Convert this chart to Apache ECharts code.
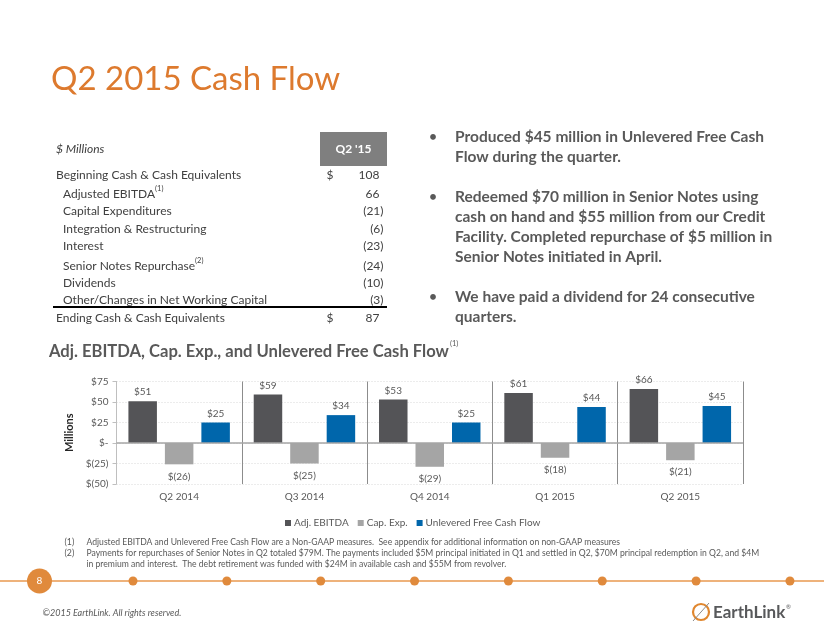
<!DOCTYPE html>
<html>
<head>
<meta charset="utf-8">
<script src="https://cdn.jsdelivr.net/npm/echarts@6/dist/echarts.min.js"></script>
<style>
html,body{margin:0;padding:0;background:#fff;}
#main{width:824px;height:637px;}
</style>
</head>
<body>
<div id="main"></div>
<script>
// ---- data ----
const categories = ['Q2 2014', 'Q3 2014', 'Q4 2014', 'Q1 2015', 'Q2 2015'];
const adjEbitda = [51, 59, 53, 61, 66];
const capEx = [-26, -25, -29, -18, -21];
const unleveredFCF = [25, 34, 25, 44, 45];
const seriesNames = ['Adj. EBITDA', 'Cap. Exp.', 'Unlevered Free Cash Flow'];
const yMin = -50, yMax = 75, yStep = 25;

const tableLabels = ['Beginning Cash & Cash Equivalents', 'Adjusted EBITDA', 'Capital Expenditures',
  'Integration & Restructuring', 'Interest', 'Senior Notes Repurchase', 'Dividends',
  'Other/Changes in Net Working Capital', 'Ending Cash & Cash Equivalents'];
const tableValues = [108, 66, -21, -6, -23, -24, -10, -3, 87];
const tableNotes = ['', '(1)', '', '', '', '(2)', '', '', ''];
const tableDollar = [true, false, false, false, false, false, false, false, true];

const bullets = [
  ['Produced $45 million in Unlevered Free Cash', 'Flow during the quarter.'],
  ['Redeemed $70 million in Senior Notes using', 'cash on hand and $55 million from our Credit',
   'Facility. Completed repurchase of $5 million in', 'Senior Notes initiated in April.'],
  ['We have paid a dividend for 24 consecutive', 'quarters.']
];
const footnotes = [
  ['(1)', ['Adjusted EBITDA and Unlevered Free Cash Flow are a Non-GAAP measures.  See appendix for additional information on non-GAAP measures']],
  ['(2)', ['Payments for repurchases of Senior Notes in Q2 totaled $79M. The payments included $5M principal initiated in Q1 and settled in Q2, $70M principal redemption in Q2, and $4M',
           'in premium and interest.  The debt retirement was funded with $24M in available cash and $55M from revolver.']]
];

// ---- layout / style ----
const FONT = 'Lato, "Open Sans", sans-serif';
const GRAY = '#595959';
const TBL = '#404040';
const ORANGE = '#DD7A2E';
const LINE_ORANGE = '#E8994F';

function money(v) {
  if (v === 0) return '$-';
  return v < 0 ? '$(' + (-v) + ')' : '$' + v;
}

const g = [];
// title
g.push({type:'text', style:{text:'Q2 2015 Cash Flow', x:51, y:79, font:'33px ' + FONT, fill:ORANGE, verticalAlign:'middle'}});

// table
g.push({type:'text', style:{text:'$ Millions', x:56, y:149, font:'italic 12px ' + FONT, fill:TBL, verticalAlign:'middle'}});
g.push({type:'rect', shape:{x:320, y:132, width:67, height:34}, style:{fill:'#7F7F7F'}});
g.push({type:'text', style:{text:"Q2 '15", x:353.5, y:149, font:'bold 12px ' + FONT, fill:'#fff', align:'center', verticalAlign:'middle'}});
const rowY = [175, 194, 211.5, 229, 246.5, 266, 283, 300.5, 318];
tableLabels.forEach((lab, i) => {
  const indent = (i === 0 || i === tableLabels.length - 1) ? 56 : 63;
  const note = tableNotes[i];
  g.push({type:'text', style:{
    text: note ? '{a|' + lab + '}{s|' + note + '}' : '{a|' + lab + '}',
    x: indent, y: rowY[i], verticalAlign:'middle', fill:TBL, font:'12px ' + FONT,
    rich:{a:{font:'12px ' + FONT, fill:TBL, lineHeight:18}, s:{font:'7.5px ' + FONT, fill:TBL, verticalAlign:'top', lineHeight:18, padding:[0,0,8,0]}}
  }});
  const v = tableValues[i];
  if (tableDollar[i]) g.push({type:'text', style:{text:'$', x:330, y:rowY[i], font:'12px ' + FONT, fill:TBL, align:'center', verticalAlign:'middle'}});
  g.push({type:'text', style:{text: v < 0 ? '(' + (-v) + ')' : String(v), x: v < 0 ? 383.5 : 379.5, y: rowY[i], font:'12px ' + FONT, fill:TBL, align:'right', verticalAlign:'middle'}});
});
g.push({type:'line', shape:{x1:53, y1:307, x2:387, y2:307}, style:{stroke:'#000', lineWidth:2}});

// bullets
let by = 137;
bullets.forEach((lines) => {
  g.push({type:'text', style:{text:'•', x:433, y:by, font:'bold 13px ' + FONT, fill:GRAY, align:'center', verticalAlign:'middle'}});
  lines.forEach((ln, li) => {
    g.push({type:'text', style:{text:ln, x:455, y:by + li * 20, font:'bold 15.5px ' + FONT, fill:GRAY, verticalAlign:'middle'}});
  });
  by += lines.length * 20 + 20;
});

// chart title
g.push({type:'text', style:{
  text:'{a|Adj. EBITDA, Cap. Exp., and Unlevered Free Cash Flow}{s|(1)}', x:49, y:352, verticalAlign:'middle',
  rich:{a:{font:'bold 16.6px ' + FONT, fill:GRAY, lineHeight:24}, s:{font:'7.5px ' + FONT, fill:GRAY, verticalAlign:'top', lineHeight:24, padding:[0,0,14,1]}}
}});

// footnotes
let fy = 542;
footnotes.forEach(([num, lines]) => {
  g.push({type:'text', style:{text:num, x:64.5, y:fy, font:'8.8px ' + FONT, fill:GRAY, verticalAlign:'middle'}});
  lines.forEach((ln, li) => {
    g.push({type:'text', style:{text:ln, x:86.5, y:fy + li * 11.3, font:'8.6px ' + FONT, fill:GRAY, verticalAlign:'middle'}});
  });
  fy += lines.length * 11.3;
});

// bottom orange rule with dots
g.push({type:'line', shape:{x1:0, y1:581, x2:824, y2:581}, style:{stroke:LINE_ORANGE, lineWidth:1.5}});
for (let k = 0; k < 8; k++) {
  g.push({type:'circle', shape:{cx:133 + k * 93.85, cy:581, r:4.5}, style:{fill:'#E08A3C'}});
}
g.push({type:'circle', shape:{cx:39.5, cy:581, r:12.5}, style:{fill:'#E08A3C'}});
g.push({type:'text', style:{text:'8', x:39.5, y:581, font:'10px ' + FONT, fill:'#fff', align:'center', verticalAlign:'middle'}});
g.push({type:'text', style:{text:'©2015 EarthLink. All rights reserved.', x:42.5, y:613, font:'italic 9px ' + FONT, fill:GRAY, verticalAlign:'middle'}});

// logo
g.push({type:'circle', shape:{cx:701, cy:612, r:8}, style:{fill:'none', stroke:'#E0872F', lineWidth:2.2}});
g.push({type:'line', shape:{x1:693, y1:621, x2:709, y2:603}, style:{stroke:'#8A8A8A', lineWidth:1}});
g.push({type:'text', style:{text:'EarthLink', x:713, y:613, font:'bold 17px ' + FONT, fill:'#58595B', verticalAlign:'middle'}});
g.push({type:'text', style:{text:'®', x:786, y:607, font:'6px ' + FONT, fill:'#58595B', verticalAlign:'middle'}});

const labelCommon = {show:true, fontFamily:FONT, fontSize:10, color:GRAY, formatter: p => money(p.value)};

const chart = echarts.init(document.getElementById('main'), null, {renderer:'canvas'});
chart.setOption({
  animation:false,
  textStyle:{fontFamily:FONT},
  grid:{left:116.5, right:81, top:381.5, bottom:153},
  legend:{
    left:280, top:513, itemWidth:6, itemHeight:6, itemGap:9, icon:'rect',
    textStyle:{fontFamily:FONT, fontSize:10, color:GRAY, padding:[0,0,0,-2]},
    data:seriesNames
  },
  xAxis:{
    type:'category', data:categories,
    axisLine:{show:false, onZero:false},
    axisTick:{show:false},
    axisLabel:{fontFamily:FONT, fontSize:10, color:GRAY, margin:8},
    splitLine:{show:true, lineStyle:{color:'#8C8C8C', width:1}}
  },
  yAxis:{
    type:'value', min:yMin, max:yMax, interval:yStep,
    name:'Millions', nameLocation:'middle', nameGap:35, nameRotate:90,
    nameTextStyle:{fontFamily:FONT, fontSize:11, fontWeight:'bold', color:'#262626'},
    axisLine:{show:true, lineStyle:{color:'#BFBFBF'}},
    axisTick:{show:true, length:4, lineStyle:{color:'#BFBFBF'}},
    axisLabel:{fontFamily:FONT, fontSize:10, color:GRAY, margin:8, formatter: v => money(v)},
    splitLine:{show:true, lineStyle:{color:'#D9D9D9', type:[1,2]}}
  },
  series:[
    {name:seriesNames[0], type:'bar', data:adjEbitda, barWidth:28.5, barGap:'28%',
     itemStyle:{color:'#545457'}, label:Object.assign({position:'top', distance:4}, labelCommon),
     markLine:{silent:true, symbol:'none', label:{show:false}, lineStyle:{color:'#A6A6A6', type:'solid', width:1.5}, data:[{yAxis:0}]}},
    {name:seriesNames[1], type:'bar', data:capEx, barWidth:28.5, barGap:'28%',
     itemStyle:{color:'#A5A5A5'}, label:Object.assign({position:'bottom', distance:7}, labelCommon)},
    {name:seriesNames[2], type:'bar', data:unleveredFCF, barWidth:28.5, barGap:'28%',
     itemStyle:{color:'#0066AB'}, label:Object.assign({position:'top', distance:4}, labelCommon)}
  ],
  graphic:g
});
</script>
</body>
</html>
